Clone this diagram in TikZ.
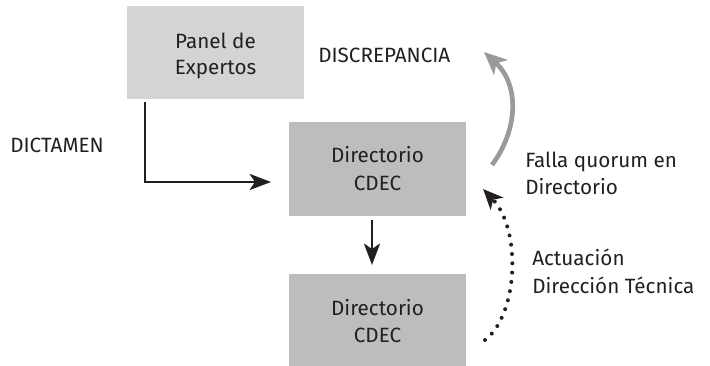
\documentclass[tikz,border=0pt]{standalone}
\usepackage{fontspec}
\setmainfont{Fira Sans}
\usetikzlibrary{arrows.meta}
\definecolor{boxlight}{HTML}{D4D4D5}
\definecolor{boxdark}{HTML}{BCBDBF}
\definecolor{arrgrey}{HTML}{999A9C}
\definecolor{txt}{HTML}{231F20}
\tikzset{
  x=0.75pt, y=-0.75pt,
  lbl/.style={inner sep=0pt, text=txt, font=\fontsize{15.5}{19}\selectfont},
  blackarr/.style={draw=txt, line width=2.2pt, -{Stealth[length=16pt,width=12pt,inset=4pt]}},
  greyarr/.style={draw=arrgrey, line width=3.5pt, -{Stealth[length=17pt,width=15pt,inset=4.5pt]}},
  dotarr/.style={draw=txt, line width=3pt, line cap=round, dash pattern=on 0pt off 7pt, -{Stealth[length=15pt,width=13pt,inset=4pt,line cap=butt, sep=-1pt]}},
}
\begin{document}
\begin{tikzpicture}
\useasboundingbox (0,0) rectangle (710,366);
\fill[boxlight] (127,6) rectangle (304,99);
\node[lbl, anchor=base] (panelA) at (215.5,49) {Panel de};
\node[lbl, anchor=base] (panelB) at (215.5,75) {Expertos};
\fill[boxdark] (289,122) rectangle (466,216);
\node[lbl, anchor=base] (dirA) at (377.5,163) {Directorio};
\node[lbl, anchor=base] (dirB) at (377.5,191) {CDEC};
\fill[boxdark] (289,274) rectangle (466,366);
\node[lbl, anchor=base] (dirC) at (377.5,316) {Directorio};
\node[lbl, anchor=base] (dirD) at (377.5,343) {CDEC};
\coordinate (pbot) at (145,102);
\coordinate (lcor) at (145,182);
\coordinate (ltip) at (271,182);
\coordinate (d1) at (372,220);
\coordinate (d2) at (372,265);
\coordinate (gs) at (492,165);
\coordinate (gt) at (484,52);
\coordinate (ds) at (485,340);
\coordinate (dt) at (484,190);
\draw[blackarr] (pbot) -- (lcor) -- (ltip);
\draw[blackarr] (d1) -- (d2);
\draw[greyarr] (gs) .. controls (518,130) and (520,85) .. (gt);
\draw[dotarr] (ds) .. controls (518,315) and (522,230) .. (dt);
\node[lbl, anchor=base west] (disc) at (318,63) {DISCREPANCIA};
\node[lbl, anchor=base west] (dict) at (10,153) {DICTAMEN};
\node[lbl, anchor=base west] (fallaA) at (525,168) {Falla quorum en};
\node[lbl, anchor=base west] (fallaB) at (525,195) {Directorio};
\node[lbl, anchor=base west] (actA) at (532,266) {Actuación};
\node[lbl, anchor=base west] (actB) at (532,294) {Dirección Técnica};
\end{tikzpicture}
\end{document}
